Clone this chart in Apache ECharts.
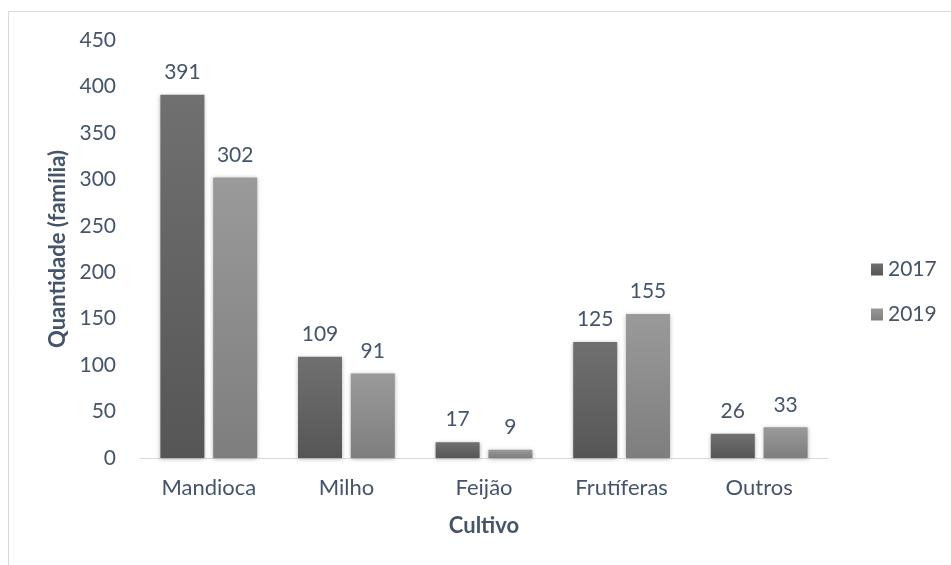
<!DOCTYPE html>
<html><head><meta charset="utf-8">
<script src="https://cdn.jsdelivr.net/npm/echarts@6/dist/echarts.min.js"></script>
<style>html,body{margin:0;padding:0;background:#fff}#c{width:951px;height:565px}</style>
</head><body><div id="c"></div>
<script>
var categories = ['Mandioca', 'Milho', 'Feijão', 'Frutíferas', 'Outros'];
var seriesNames = ['2017', '2019'];
var values2017 = [391, 109, 17, 125, 26];
var values2019 = [302, 91, 9, 155, 33];
var yTicks = {min: 0, max: 450, interval: 50};

var txt = '#44546a';
var font = 'Lato';
var fs = 21;
function grad(a, b) {
  return new echarts.graphic.LinearGradient(0, 0, 0, 1, [{offset: 0, color: a}, {offset: 1, color: b}]);
}
var chart = echarts.init(document.getElementById('c'), null, {renderer: 'canvas'});
chart.setOption({
  animation: false,
  textStyle: {fontFamily: font},
  graphic: [{type: 'rect', shape: {x: 8.5, y: 11.5, width: 1000, height: 700}, style: {fill: 'none', stroke: '#d9d9d9', lineWidth: 1}, z: -1}],
  grid: {left: 140, right: 123, top: 40, bottom: 107},
  legend: {
    orient: 'vertical', left: 866, top: 254, itemWidth: 12, itemHeight: 12, itemGap: 24,
    icon: 'rect',
    textStyle: {color: txt, fontSize: fs, fontFamily: font},
    data: seriesNames
  },
  xAxis: {
    type: 'category', data: categories,
    axisLine: {lineStyle: {color: '#d9d9d9', width: 1}},
    axisTick: {show: false},
    axisLabel: {color: txt, fontSize: 22, margin: 19, fontFamily: font},
    name: 'Cultivo', nameLocation: 'middle', nameGap: 57,
    nameTextStyle: {color: txt, fontSize: 22, fontWeight: 'bold', fontFamily: font}
  },
  yAxis: {
    type: 'value', min: yTicks.min, max: yTicks.max, interval: yTicks.interval,
    axisLine: {show: false}, axisTick: {show: false}, splitLine: {show: false},
    axisLabel: {color: txt, fontSize: fs, margin: 24, fontFamily: font},
    name: 'Quantidade (família)', nameLocation: 'middle', nameGap: 67,
    nameTextStyle: {color: txt, fontSize: 22, fontWeight: 'bold', fontFamily: font}
  },
  series: [
    {name: seriesNames[0], type: 'bar', data: values2017, barWidth: 44, barGap: '20%',
     itemStyle: {color: grad('#707070', '#565656'), shadowBlur: 4, shadowColor: 'rgba(0,0,0,0.3)', shadowOffsetY: 1},
     label: {show: true, position: 'top', distance: 12, color: txt, fontSize: fs, fontFamily: font}},
    {name: seriesNames[1], type: 'bar', data: values2019, barWidth: 44,
     itemStyle: {color: grad('#9a9a9a', '#7e7e7e'), shadowBlur: 4, shadowColor: 'rgba(0,0,0,0.3)', shadowOffsetY: 1},
     label: {show: true, position: 'top', distance: 12, color: txt, fontSize: fs, fontFamily: font}}
  ]
});
</script></body></html>
